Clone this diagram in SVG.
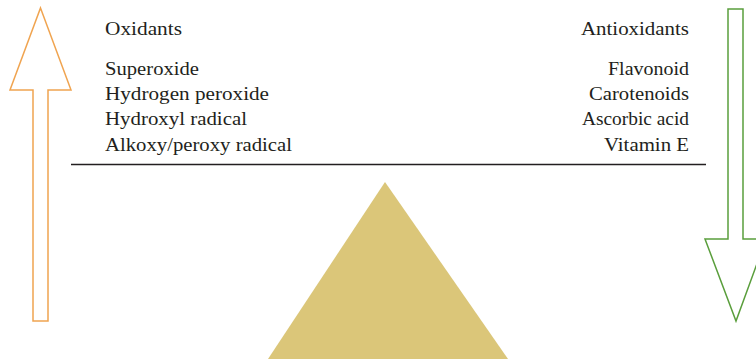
<svg xmlns="http://www.w3.org/2000/svg" width="756" height="359" viewBox="0 0 756 359">
<style>
text{font-family:"Liberation Serif","Times New Roman",serif;font-size:18px;fill:#231f20}
.r{text-anchor:end}
</style>
<rect width="756" height="359" fill="#fff"/>
<g id="oxidant-arrow"><polygon points="40.5,8 71,90 48,90 48,321 33,321 33,90 10,90" fill="none" stroke="#f0a450" stroke-width="1.5"/></g>
<g id="antioxidant-arrow"><polygon points="728,9 743,9 743,239 766,239 736,321 705,239 728,239" fill="none" stroke="#5a9e3c" stroke-width="1.5"/></g>
<g id="fulcrum"><polygon points="385,182 508,359 268,359" fill="#dbc679"/></g>
<g id="beam"><line x1="71" y1="164.5" x2="706" y2="164.5" stroke="#231f20" stroke-width="1.3"/></g>
<g id="oxidants">
<text x="105" y="35" textLength="77" lengthAdjust="spacingAndGlyphs">Oxidants</text>
<text x="105" y="75" textLength="94" lengthAdjust="spacingAndGlyphs">Superoxide</text>
<text x="105" y="100" textLength="164" lengthAdjust="spacingAndGlyphs">Hydrogen peroxide</text>
<text x="105" y="125" textLength="142" lengthAdjust="spacingAndGlyphs">Hydroxyl radical</text>
<text x="105" y="151" textLength="187" lengthAdjust="spacingAndGlyphs">Alkoxy/peroxy radical</text>
</g>
<g id="antioxidants">
<text class="r" x="689" y="35" textLength="108" lengthAdjust="spacingAndGlyphs">Antioxidants</text>
<text class="r" x="689" y="75" textLength="81" lengthAdjust="spacingAndGlyphs">Flavonoid</text>
<text class="r" x="689" y="100" textLength="100" lengthAdjust="spacingAndGlyphs">Carotenoids</text>
<text class="r" x="689" y="125" textLength="107" lengthAdjust="spacingAndGlyphs">Ascorbic acid</text>
<text class="r" x="689" y="151" textLength="85" lengthAdjust="spacingAndGlyphs">Vitamin E</text>
</g>
</svg>
